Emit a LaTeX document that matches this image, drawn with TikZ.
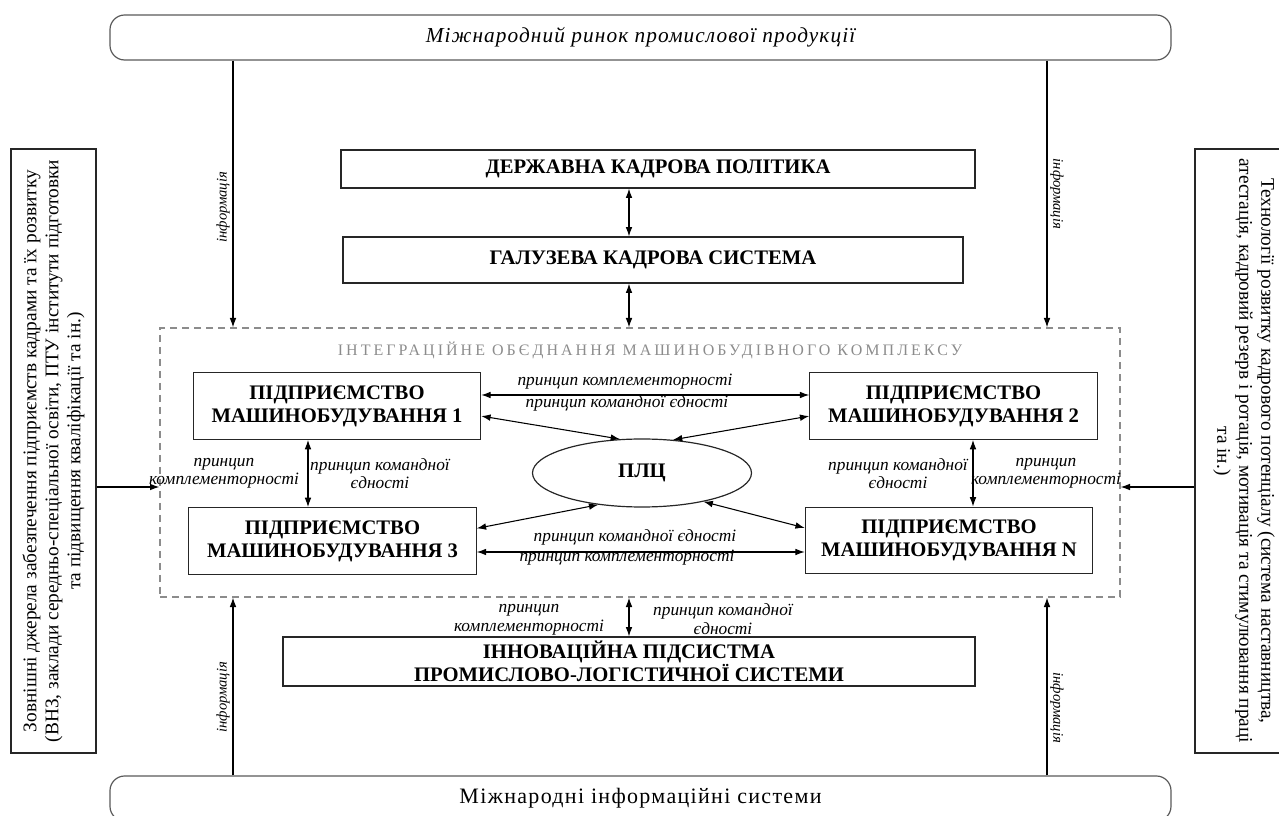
\documentclass[tikz,border=0pt]{standalone}
\usepackage{fontspec}
\setmainfont{Liberation Serif}
\usetikzlibrary{arrows.meta,shapes.geometric}

\tikzset{
  firm/.style={draw=black!85, line width=0.9pt, minimum width=215.5pt, minimum height=50pt,
    align=center, inner sep=0pt, font=\fontsize{15.5}{17.25}\selectfont\bfseries},
  level/.style={draw=black!85, line width=0.9pt, align=center, inner sep=0pt,
    font=\fontsize{15.5}{15.75}\selectfont\bfseries},
  market/.style={draw=black!65, line width=0.9pt, rounded corners=11pt,
    minimum width=795.75pt, minimum height=33.75pt},
  side/.style={draw=black!85, line width=0.9pt, minimum height=453pt},
  sidetext/.style={align=center, font=\fontsize{14.5}{16.5}\selectfont},
  flow/.style={-{Latex[length=7pt,width=5pt]}, line width=0.8pt},
  link/.style={{Latex[length=7pt,width=5pt]}-{Latex[length=7pt,width=5pt]}, line width=0.8pt},
  principle/.style={align=center, inner sep=0pt, font=\fontsize{13}{13.5}\selectfont\itshape},
  info/.style={inner sep=2pt, font=\fontsize{11}{13}\selectfont\itshape},
}

\begin{document}
\begin{tikzpicture}[x=0.75pt, y=-0.75pt]
\useasboundingbox (0,0) rectangle (1279,816);

% outer markets
\node[market, font=\fontsize{16}{18}\selectfont\itshape] (market) at (640.5,37.5)
  {\addfontfeatures{LetterSpace=5}Міжнародний ринок промислової продукції};
\node[market, font=\fontsize{16.5}{18}\selectfont] (infosys) at (640.5,798.5)
  {\addfontfeatures{LetterSpace=6}Міжнародні інформаційні системи};

% side boxes
\node[side, minimum width=63.75pt] (sources) at (53.5,451) {};
\node[sidetext, rotate=90] at (sources.center) {Зовнішні джерела забезпечення підприємств кадрами та їх розвитку\\(ВНЗ, заклади середньо-спеціальної освіти, ПТУ інститути підготовки\\та підвищення кваліфікації та ін.)};
\node[side, minimum width=73.5pt] (techs) at (1244,451) {};
\node[sidetext, rotate=-90] at (techs.center) {Технології розвитку кадрового потенціалу (система наставництва,\\атестація, кадровий резерв і ротація, мотивація та стимулювання праці\\та ін.)};

% policy levels
\node[level, minimum width=475.5pt, minimum height=28.5pt] (policy) at (658,169) {ДЕРЖАВНА КАДРОВА ПОЛІТИКА};
\node[level, minimum width=465pt, minimum height=34.5pt] (branch) at (653,260) {ГАЛУЗЕВА КАДРОВА СИСТЕМА};

% integration union
\node[draw=black!45, dash pattern=on 5pt off 4pt, line width=1pt, minimum width=720pt, minimum height=201.75pt] (union) at (640,462.5) {};
\node[text=black!45, font=\fontsize{12}{14}\selectfont] (uniontitle) at (650,350)
  {\addfontfeatures{LetterSpace=19}ІНТЕГРАЦІЙНЕ ОБЄДНАННЯ МАШИНОБУДІВНОГО КОМПЛЕКСУ};

\node[firm] (firm1) at (337,406) {ПІДПРИЄМСТВО\\МАШИНОБУДУВАННЯ 1};
\node[firm] (firm2) at (953.5,406) {ПІДПРИЄМСТВО\\МАШИНОБУДУВАННЯ 2};
\node[firm] (firm3) at (332.5,541) {ПІДПРИЄМСТВО\\МАШИНОБУДУВАННЯ 3};
\node[firm] (firmN) at (949,540.5) {ПІДПРИЄМСТВО\\МАШИНОБУДУВАННЯ N};
\node[draw=black!85, line width=0.9pt, ellipse, minimum width=164.25pt, minimum height=51pt,
  font=\fontsize{15.5}{17}\selectfont\bfseries] (plc) at (642,473) {ПЛЦ};

\node[level, minimum width=519pt, minimum height=36.75pt] (innov) at (629,661.5) {ІННОВАЦІЙНА ПІДСИСТМА\\ПРОМИСЛОВО-ЛОГІСТИЧНОЇ СИСТЕМИ};

% helper columns and rows
\coordinate (lcol) at (233,0);
\coordinate (rcol) at (1047,0);
\coordinate (mcol) at (629,0);
\coordinate (arow) at (0,487);
\coordinate (toprow) at (0,395);
\coordinate (botrow) at (0,552);
\coordinate (lcross) at (308,0);
\coordinate (rcross) at (973,0);

% information flows
\draw[flow] (market.south -| lcol) -- (union.north -| lcol) node[info, rotate=90, anchor=south, pos=0.55] {інформація};
\draw[flow] (market.south -| rcol) -- (union.north -| rcol) node[info, rotate=-90, anchor=south, pos=0.5] {інформація};
\draw[flow] (infosys.north -| lcol) -- (union.south -| lcol) node[info, rotate=90, anchor=south, pos=0.44] {інформація};
\draw[flow] (infosys.north -| rcol) -- (union.south -| rcol) node[info, rotate=-90, anchor=south, pos=0.38] {інформація};
\draw[flow] (sources.east |- arow) -- (union.west |- arow);
\draw[flow] (techs.west |- arow) -- (union.east |- arow);

\draw[link] (policy.south -| mcol) -- (branch.north -| mcol);
\draw[link] (branch.south -| mcol) -- (union.north -| mcol);
\draw[link] (union.south -| mcol) -- (innov.north -| mcol);
\node[principle, font=\fontsize{13}{14.25}\selectfont\itshape] at (529,619.5) {принцип\\комплементорності};
\node[principle, font=\fontsize{13}{14.25}\selectfont\itshape] at (723,619.5) {принцип командної\\єдності};

% links between enterprises
\draw[link] (firm1.east |- toprow) -- (firm2.west |- toprow);
\node[principle] at (625,382) {принцип комплементорності};
\node[principle] at (627,403) {принцип командної єдності};
\draw[link] (firm3.east |- botrow) -- (firmN.west |- botrow);
\node[principle] at (635,537) {принцип командної єдності};
\node[principle] at (627,558) {принцип комплементорності};

\draw[link] (firm1.south -| lcross) -- (firm3.north -| lcross);
\node[principle] at (224,473.5) {принцип\\комплементорності};
\node[principle] at (380,473.5) {принцип командної\\єдності};
\draw[link] (firm2.south -| rcross) -- (firmN.north -| rcross);
\node[principle] at (898,473.5) {принцип командної\\єдності};
\node[principle] at (1046,473.5) {принцип\\комплементорності};

% links with the logistics centre
\draw[link] (firm1.-4.8) -- (plc.123.7);
\draw[link] (firm2.184.8) -- (plc.47.7);
\draw[link] (firm3.5.5) -- (plc.216.4);
\draw[link] (firmN.175) -- (plc.-25.8);
\end{tikzpicture}
\end{document}
